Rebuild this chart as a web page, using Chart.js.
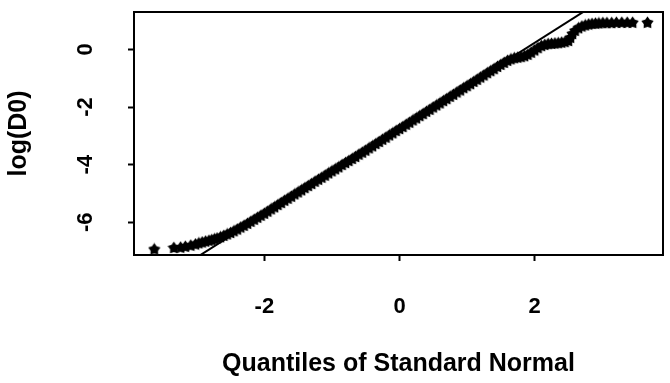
<!DOCTYPE html>
<html>
<head>
<meta charset="utf-8">
<script src="https://cdn.jsdelivr.net/npm/chart.js@4.4.0/dist/chart.umd.min.js"></script>
<style>
  html, body { margin: 0; padding: 0; background: #fff; }
  canvas { display: block; }
</style>
</head>
<body>
<canvas id="qq" width="670" height="383"></canvas>
<script>
// Theoretical quantiles of the standard normal (x) and sample values of log(D0) (y)
const normalQuantiles = [
  -3.63, -3.34, -3.24, -3.17, -3.09, -3.02, -2.97, -2.92, -2.87, -2.82,
  -2.78, -2.74, -2.70, -2.65, -2.60, -2.55, -2.50, -2.45, -2.40, -2.35,
  -2.30, -2.25, -2.20, -2.15, -2.10, -2.05, -2.00, -1.95, -1.90, -1.85,
  -1.80, -1.75, -1.70, -1.65, -1.60, -1.55, -1.50, -1.45, -1.40, -1.35,
  -1.30, -1.25, -1.20, -1.15, -1.10, -1.05, -1.00, -0.95, -0.90, -0.85,
  -0.80, -0.75, -0.70, -0.65, -0.60, -0.55, -0.50, -0.45, -0.40, -0.35,
  -0.30, -0.25, -0.20, -0.15, -0.10, -0.05, 0.00, 0.05, 0.10, 0.15,
  0.20, 0.25, 0.30, 0.35, 0.40, 0.45, 0.50, 0.55, 0.60, 0.65,
  0.70, 0.75, 0.80, 0.85, 0.90, 0.95, 1.00, 1.05, 1.10, 1.15,
  1.20, 1.25, 1.30, 1.35, 1.40, 1.45, 1.50, 1.55, 1.60, 1.65,
  1.70, 1.75, 1.80, 1.85, 1.90, 1.95, 2.00, 2.05, 2.10, 2.15,
  2.20, 2.25, 2.30, 2.35, 2.40, 2.45, 2.50, 2.53, 2.56, 2.60,
  2.65, 2.70, 2.75, 2.80, 2.85, 2.90, 2.95, 3.01, 3.07, 3.14,
  3.21, 3.29, 3.37, 3.45, 3.67
];
const logD0 = [
  -6.93, -6.88, -6.87, -6.84, -6.80, -6.76, -6.72, -6.69, -6.66, -6.63,
  -6.61, -6.58, -6.55, -6.51, -6.46, -6.41, -6.36, -6.30, -6.24, -6.17,
  -6.11, -6.04, -5.97, -5.90, -5.83, -5.76, -5.69, -5.62, -5.54, -5.47,
  -5.39, -5.32, -5.24, -5.17, -5.10, -5.02, -4.95, -4.88, -4.80, -4.73,
  -4.66, -4.58, -4.51, -4.44, -4.37, -4.29, -4.22, -4.15, -4.08, -4.00,
  -3.93, -3.86, -3.79, -3.72, -3.64, -3.57, -3.50, -3.42, -3.35, -3.27,
  -3.20, -3.12, -3.05, -2.97, -2.90, -2.82, -2.75, -2.68, -2.60, -2.53,
  -2.45, -2.38, -2.30, -2.23, -2.15, -2.08, -2.00, -1.93, -1.86, -1.78,
  -1.71, -1.63, -1.56, -1.48, -1.41, -1.33, -1.26, -1.19, -1.11, -1.04,
  -0.96, -0.89, -0.81, -0.74, -0.67, -0.59, -0.52, -0.45, -0.38, -0.33,
  -0.29, -0.27, -0.25, -0.22, -0.17, -0.10, -0.02, 0.06, 0.13, 0.17,
  0.20, 0.21, 0.22, 0.23, 0.25, 0.27, 0.31, 0.42, 0.55, 0.66,
  0.75, 0.81, 0.85, 0.88, 0.90, 0.91, 0.92, 0.93, 0.93, 0.93,
  0.94, 0.94, 0.94, 0.94, 0.94
];

// Reference line through the quartiles
const refIntercept = -2.75;
const refSlope = 1.49;

// Axis ranges and tick labels
const xRange = [-3.93, 3.90];
const yRange = [-7.14, 1.30];
const xTickValues = [-2, 0, 2];
const yTickValues = [-6, -4, -2, 0];

const FONT = '"Liberation Sans", Arial, Helvetica, sans-serif';

// Filled five-point star used as the point marker
function makeStar(size, inner) {
  const cv = document.createElement('canvas');
  cv.width = size; cv.height = size;
  const c = cv.getContext('2d');
  const cx = size / 2, cy = size / 2 + 0.5, R = size / 2;
  c.fillStyle = '#000';
  c.beginPath();
  for (let i = 0; i < 10; i++) {
    const r = i % 2 ? R * inner : R;
    const a = -Math.PI / 2 + i * Math.PI / 5;
    c.lineTo(cx + r * Math.cos(a), cy + r * Math.sin(a));
  }
  c.closePath();
  c.fill();
  return cv;
}
const starMarker = makeStar(13, 0.6);

const points = normalQuantiles.map((q, i) => ({ x: q, y: logD0[i] }));
const refLine = xRange.map(q => ({ x: q, y: refIntercept + refSlope * q }));

// Frame around the plotting region
const framePlugin = {
  id: 'frame',
  afterDatasetsDraw(chart) {
    const { ctx, chartArea: a } = chart;
    ctx.save();
    ctx.strokeStyle = '#000';
    ctx.lineWidth = 2;
    ctx.strokeRect(a.left, a.top, a.right - a.left, a.bottom - a.top);
    ctx.restore();
  }
};

new Chart(document.getElementById('qq'), {
  type: 'scatter',
  data: {
    datasets: [
      {
        data: points,
        pointStyle: starMarker,
        pointRadius: 6,
        showLine: false,
        order: 1
      },
      {
        type: 'line',
        data: refLine,
        borderColor: '#000',
        borderWidth: 2,
        pointRadius: 0,
        fill: false,
        order: 2
      }
    ]
  },
  options: {
    responsive: false,
    devicePixelRatio: 1,
    animation: false,
    events: [],
    layout: { padding: { left: 0, right: 2, top: 12, bottom: 0 } },
    plugins: { legend: { display: false }, tooltip: { enabled: false } },
    scales: {
      x: {
        type: 'linear',
        min: xRange[0],
        max: xRange[1],
        afterBuildTicks: s => { s.ticks = xTickValues.map(v => ({ value: v })); },
        afterFit: s => { s.height = 128; s.paddingLeft = 0; s.paddingRight = 0; },
        ticks: {
          padding: 33,
          color: '#000',
          font: { family: FONT, size: 22, weight: 'bold' },
          maxRotation: 0
        },
        grid: {
          display: true,
          drawOnChartArea: false,
          drawTicks: true,
          tickLength: 6,
          tickWidth: 2,
          tickColor: '#000'
        },
        border: { display: false },
        title: {
          display: true,
          text: 'Quantiles of Standard Normal',
          color: '#000',
          font: { family: FONT, size: 25, weight: 'bold', lineHeight: 1.2 },
          padding: { top: 0, bottom: 4 }
        }
      },
      y: {
        type: 'linear',
        min: yRange[0],
        max: yRange[1],
        afterBuildTicks: s => { s.ticks = yTickValues.map(v => ({ value: v })); },
        afterFit: s => { s.width = 134; s.paddingTop = 0; s.paddingBottom = 0; },
        ticks: {
          padding: 32,
          color: '#000',
          crossAlign: 'center',
          minRotation: 90,
          maxRotation: 90,
          font: { family: FONT, size: 22, weight: 'bold' }
        },
        grid: {
          display: true,
          drawOnChartArea: false,
          drawTicks: true,
          tickLength: 6,
          tickWidth: 2,
          tickColor: '#000'
        },
        border: { display: false },
        title: {
          display: true,
          text: 'log(D0)',
          color: '#000',
          font: { family: FONT, size: 25, weight: 'bold', lineHeight: 1.2 },
          padding: { top: 4, bottom: 0 }
        }
      }
    }
  },
  plugins: [framePlugin]
});
</script>
</body>
</html>
